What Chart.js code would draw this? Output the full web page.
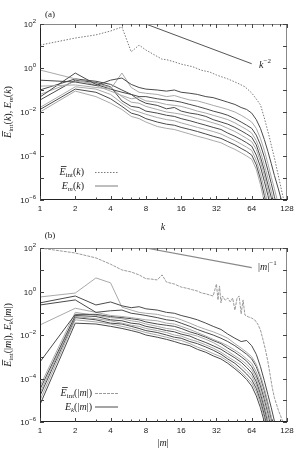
<!DOCTYPE html>
<html>
<head>
<meta charset="utf-8">
<script src="https://cdn.jsdelivr.net/npm/chart.js@4.4.1/dist/chart.umd.min.js"></script>
<style>
body { margin: 0; background: #fff; }
#wrap { position: relative; width: 298px; height: 449px; }
canvas { position: absolute; left: 0; }
</style>
</head>
<body>
<div id="wrap">
  <canvas id="chartA" width="298" height="234" style="top:0px"></canvas>
  <canvas id="chartB" width="298" height="223" style="top:226px"></canvas>
</div>
<script>
// wavenumbers k (panel a) and |m| (panel b)
const kGrid = [1,2,3,4,5,6,7,8,10,12,14,16,19,22,26,30,35,40,46,52,58,64,70,76,82,88,94,100,108,116,124];

// panel (a): E_m(k) for the different m
const spectraA = [
  [2.8e-1,2.3e-1,1.6e-1,2.8e-1,3.5e-1,1.8e-1,1.3e-1,1.1e-1,1.0e-1,8.9e-2,1.0e-1,7.9e-2,7.1e-2,6.3e-2,5.0e-2,4.5e-2,3.5e-2,2.8e-2,2.2e-2,1.6e-2,1.3e-2,8.9e-3,4.5e-3,1.8e-3,5.6e-4,1.6e-4,4.5e-5,1.3e-5,3.2e-6,7.9e-7,2.0e-7],
  [1.5e-1,1.7e-1,1.3e-1,1.1e-1,5.9e-1,1.3e-1,7.9e-2,7.1e-2,6.3e-2,5.0e-2,5.6e-2,4.5e-2,3.5e-2,3.2e-2,2.5e-2,2.0e-2,1.6e-2,1.3e-2,1.0e-2,7.1e-3,5.0e-3,3.5e-3,1.8e-3,6.3e-4,1.8e-4,4.5e-5,1.1e-5,3.2e-6,6.3e-7,1.3e-7,null],
  [4.8e-2,5.9e-1,1.8e-1,1.1e-1,7.9e-2,6.3e-2,5.0e-2,5.0e-2,4.0e-2,3.5e-2,3.2e-2,2.8e-2,2.2e-2,1.8e-2,1.4e-2,1.1e-2,8.9e-3,7.1e-3,5.0e-3,3.5e-3,2.5e-3,1.8e-3,8.9e-4,3.2e-4,8.9e-5,2.2e-5,5.6e-6,1.4e-6,3.2e-7,null,null],
  [8.1e-1,3.2e-1,1.6e-1,8.9e-2,5.6e-2,4.0e-2,4.5e-2,3.2e-2,2.8e-2,2.2e-2,2.0e-2,1.8e-2,1.4e-2,1.1e-2,8.9e-3,7.1e-3,5.6e-3,4.5e-3,3.2e-3,2.2e-3,1.6e-3,1.1e-3,5.0e-4,1.6e-4,4.0e-5,1.0e-5,2.5e-6,6.3e-7,1.3e-7,null,null],
  [1.0e-1,3.2e-1,2.5e-1,1.8e-1,1.0e-1,6.3e-2,3.5e-2,2.5e-2,2.0e-2,1.4e-2,1.6e-2,1.1e-2,8.9e-3,7.9e-3,6.3e-3,4.5e-3,3.5e-3,2.8e-3,2.0e-3,1.4e-3,1.0e-3,7.1e-4,3.2e-4,8.9e-5,2.2e-5,5.0e-6,1.3e-6,3.2e-7,null,null,null],
  [6.3e-2,2.5e-1,2.0e-1,1.3e-1,5.0e-2,2.8e-2,2.5e-2,1.8e-2,1.3e-2,1.0e-2,8.9e-3,7.9e-3,6.3e-3,5.0e-3,4.0e-3,3.2e-3,2.5e-3,1.8e-3,1.3e-3,8.9e-4,6.3e-4,4.5e-4,2.0e-4,5.6e-5,1.3e-5,2.8e-6,6.3e-7,null,null,null,null],
  [3.5e-2,2.8e-1,2.2e-1,1.4e-1,3.2e-2,1.8e-2,1.6e-2,1.1e-2,8.9e-3,7.1e-3,6.3e-3,5.0e-3,4.0e-3,3.2e-3,2.5e-3,2.0e-3,1.6e-3,1.1e-3,7.9e-4,5.6e-4,4.0e-4,2.8e-4,1.1e-4,3.2e-5,7.1e-6,1.6e-6,3.2e-7,null,null,null,null],
  [1.6e-2,1.4e-1,1.1e-1,6.3e-2,2.5e-2,1.3e-2,1.0e-2,7.9e-3,5.6e-3,4.5e-3,4.0e-3,3.2e-3,2.5e-3,2.0e-3,1.6e-3,1.3e-3,1.0e-3,7.1e-4,5.0e-4,3.5e-4,2.5e-4,1.8e-4,6.3e-5,1.6e-5,3.2e-6,6.3e-7,null,null,null,null,null],
  [1.3e-2,1.1e-1,7.9e-2,4.0e-2,1.8e-2,8.9e-3,7.1e-3,5.0e-3,3.5e-3,2.8e-3,2.5e-3,2.0e-3,1.6e-3,1.3e-3,1.0e-3,7.9e-4,6.3e-4,4.5e-4,3.2e-4,2.2e-4,1.6e-4,1.1e-4,4.0e-5,8.9e-6,1.6e-6,3.2e-7,null,null,null,null,null],
  [1.0e-2,8.9e-2,5.0e-2,2.5e-2,1.3e-2,6.3e-3,5.0e-3,3.5e-3,2.2e-3,1.8e-3,1.6e-3,1.3e-3,1.0e-3,7.9e-4,6.3e-4,5.0e-4,4.0e-4,2.8e-4,2.0e-4,1.4e-4,1.0e-4,7.1e-5,2.5e-5,5.0e-6,7.9e-7,1.6e-7,null,null,null,null,null]
];

// panel (a): mean E_int(k)
const kInt = [1,2,3,4,5,6,7,8,11,12,14,16,20,24,28,32,40,48,56,64,70,76,82,90,100,110,120,128];
const eIntK = [11,23,32,48,73,5.4,11,6.6,2.5,2.4,1.9,1.5,1.15,0.78,0.66,0.48,0.32,0.21,0.14,0.073,0.039,0.021,0.0054,8.1e-4,8.1e-5,8.1e-6,1.0e-6,1.4e-7];

// panel (a): k^-2 guide
const refK = [8, 64];
const refKval = [100, 1.5625];

// panel (b): E_k(|m|) for the different k
const spectraB = [
  [3.0e-1,6.2e-1,2.4e-1,3.3e-1,2.2e-1,1.8e-1,2.0e-1,1.6e-1,1.4e-1,1.1e-1,1.0e-1,7.9e-2,6.3e-2,5.0e-2,3.5e-2,2.5e-2,1.8e-2,1.1e-2,7.1e-3,5.0e-3,5.6e-3,3.2e-3,1.3e-3,3.5e-4,7.9e-5,1.8e-5,4.5e-6,1.1e-6,2.5e-7,null,null],
  [5.6e-1,8.5e-1,4.2,2.5,1.9e-1,1.4e-1,1.1e-1,1.0e-1,8.9e-2,7.1e-2,6.3e-2,5.0e-2,3.5e-2,2.5e-2,1.8e-2,1.4e-2,1.0e-2,7.1e-3,4.0e-3,2.5e-3,1.6e-3,1.0e-3,4.5e-4,1.4e-4,3.5e-5,7.9e-6,1.8e-6,4.0e-7,null,null,null],
  [2.4e-1,4.1e-1,1.1e-1,1.3e-1,1.4e-1,1.0e-1,8.9e-2,7.9e-2,6.3e-2,5.0e-2,4.5e-2,3.5e-2,2.5e-2,1.8e-2,1.3e-2,1.0e-2,7.1e-3,5.0e-3,3.2e-3,2.0e-3,1.3e-3,7.9e-4,3.5e-4,1.1e-4,2.8e-5,6.3e-6,1.4e-6,3.2e-7,null,null,null],
  [2.9e-2,1.7e-1,1.1e-1,7.9e-2,7.1e-2,6.3e-2,5.6e-2,5.0e-2,4.5e-2,3.5e-2,3.2e-2,2.5e-2,1.8e-2,1.3e-2,8.9e-3,6.3e-3,4.5e-3,3.2e-3,2.0e-3,1.3e-3,7.9e-4,5.0e-4,2.0e-4,6.3e-5,1.6e-5,3.5e-6,7.9e-7,null,null,null,null],
  [5.8e-4,8.9e-2,8.9e-2,7.1e-2,6.3e-2,5.6e-2,5.0e-2,4.0e-2,3.2e-2,2.8e-2,2.5e-2,2.0e-2,1.4e-2,1.1e-2,7.9e-3,5.6e-3,4.0e-3,2.5e-3,1.6e-3,1.0e-3,6.3e-4,3.5e-4,1.4e-4,4.5e-5,1.1e-5,2.5e-6,5.0e-7,null,null,null,null],
  [4.5e-5,1.1e-1,7.9e-2,6.3e-2,5.6e-2,4.5e-2,4.0e-2,3.2e-2,2.5e-2,2.0e-2,1.8e-2,1.4e-2,1.1e-2,8.9e-3,6.3e-3,4.5e-3,2.8e-3,1.8e-3,1.1e-3,7.1e-4,4.5e-4,2.5e-4,1.0e-4,2.8e-5,6.3e-6,1.3e-6,2.5e-7,null,null,null,null],
  [3.2e-5,7.9e-2,7.1e-2,5.0e-2,4.5e-2,3.5e-2,3.2e-2,2.5e-2,2.0e-2,1.6e-2,1.4e-2,1.1e-2,8.9e-3,6.3e-3,4.5e-3,3.2e-3,2.2e-3,1.4e-3,8.9e-4,5.6e-4,3.2e-4,1.8e-4,7.1e-5,2.0e-5,4.5e-6,8.9e-7,null,null,null,null,null],
  [2.2e-5,7.1e-2,5.6e-2,4.5e-2,3.5e-2,2.8e-2,2.5e-2,2.0e-2,1.6e-2,1.3e-2,1.0e-2,8.9e-3,6.3e-3,5.0e-3,3.5e-3,2.5e-3,1.6e-3,1.0e-3,6.3e-4,4.0e-4,2.2e-4,1.3e-4,5.0e-5,1.4e-5,3.2e-6,6.3e-7,null,null,null,null,null],
  [1.6e-5,6.3e-2,5.0e-2,3.5e-2,3.2e-2,2.5e-2,2.0e-2,1.6e-2,1.3e-2,1.0e-2,7.9e-3,7.1e-3,5.0e-3,4.0e-3,2.8e-3,2.0e-3,1.3e-3,7.9e-4,5.0e-4,2.8e-4,1.6e-4,8.9e-5,3.5e-5,1.0e-5,2.2e-6,4.5e-7,null,null,null,null,null],
  [1.0e-5,5.0e-2,4.0e-2,3.2e-2,2.5e-2,2.0e-2,1.6e-2,1.3e-2,1.0e-2,7.9e-3,6.3e-3,5.6e-3,4.0e-3,2.8e-3,2.0e-3,1.4e-3,1.0e-3,6.3e-4,3.5e-4,2.0e-4,1.1e-4,6.3e-5,2.5e-5,7.1e-6,1.6e-6,3.2e-7,null,null,null,null,null],
  [6.3e-6,3.5e-2,3.2e-2,2.5e-2,2.0e-2,1.6e-2,1.3e-2,1.0e-2,7.9e-3,6.3e-3,5.0e-3,4.0e-3,3.2e-3,2.2e-3,1.6e-3,1.1e-3,7.9e-4,5.0e-4,2.8e-4,1.6e-4,8.9e-5,4.5e-5,1.6e-5,4.5e-6,1.0e-6,2.0e-7,null,null,null,null,null]
];

// panel (b): mean E_int(|m|)
const mInt = [1,2,3,4,5,6,7,8,9,10,11,12,14,16,18,20,22,24,26,28,30,32,33,34,35,36,38,40,42,44,46,48,50,52,54,56,60,64,68,72,76,80,84,88,92,96,100,108,116,124];
const eIntM = [100,59,35,18,9.8,7.9,5.8,3.9,3.7,3.4,5.8,2.7,2.2,1.6,1.4,1.2,1.05,0.85,0.78,0.69,0.62,2.2,0.41,1.8,0.3,0.62,0.4,0.5,0.33,0.5,0.14,0.5,0.62,0.093,0.41,0.083,0.068,0.06,0.049,0.032,0.017,5.9e-3,2.0e-3,5.8e-4,1.4e-4,3.6e-5,1.3e-5,3.5e-6,1.3e-6,4.0e-7];

// panel (b): |m|^-1 guide
const refM = [8, 64];
const refMval = [100, 12.5];

// axis ticks
const majorX = [1, 2, 4, 8, 16, 32, 64, 128];
const minorX = [3, 5, 6, 7, 10, 12, 14, 20, 24, 28, 40, 48, 56, 80, 96, 112];
const decadeY = [1e-6, 1e-5, 1e-4, 1e-3, 1e-2, 1e-1, 1, 10, 100];
const labelY = [100, 1, 1e-2, 1e-4, 1e-6];
const labelExp = ['2', '0', '\u22122', '\u22124', '\u22126'];

const DARK = '#4a4a4a', LIGHT = '#a9a9a9', DOT = '#7a7a7a';
const IT = 'italic 10px "Liberation Serif"', RM = '10px "Liberation Serif"';
const SUB = '7px "Liberation Serif"', SUBI = 'italic 7px "Liberation Serif"';

function series(xs, ys, style) {
  return Object.assign({
    data: xs.map((x, i) => ({ x: x, y: ys[i] })),
    borderWidth: 1, pointRadius: 0, tension: 0, fill: false
  }, style);
}

function runsWidth(ctx, runs) {
  let w = 0;
  runs.forEach(r => { ctx.font = r.font; w += ctx.measureText(r.t).width; });
  return w;
}

function drawRuns(ctx, runs, x, y, align) {
  let w = runsWidth(ctx, runs);
  let cx = align === 'right' ? x - w : (align === 'left' ? x : x - w / 2);
  runs.forEach(r => {
    ctx.font = r.font;
    let tw = ctx.measureText(r.t).width;
    ctx.fillText(r.t, cx, y + (r.dy || 0));
    if (r.bar) ctx.fillRect(cx + 1.5, y - 9, tw - 0.5, 0.8);
    cx += tw;
  });
}

// frame, ticks, labels and key drawn after the curves
const decor = {
  id: 'decor',
  afterDraw(chart, args, o) {
    const ctx = chart.ctx, a = chart.chartArea;
    const xs = chart.scales.x, ys = chart.scales.y;
    ctx.save();
    ctx.fillStyle = '#222';
    ctx.textBaseline = 'alphabetic';

    // frame
    ctx.lineWidth = 1;
    ctx.strokeStyle = '#888';
    ctx.beginPath();
    ctx.moveTo(a.left, a.top + 0.5); ctx.lineTo(a.right - 0.5, a.top + 0.5); ctx.lineTo(a.right - 0.5, a.bottom);
    ctx.stroke();
    ctx.strokeStyle = '#222';
    ctx.beginPath();
    ctx.moveTo(a.left + 0.5, a.top); ctx.lineTo(a.left + 0.5, a.bottom - 0.5); ctx.lineTo(a.right, a.bottom - 0.5);
    ctx.stroke();

    // x ticks, top and bottom
    ctx.beginPath();
    majorX.concat(minorX).forEach(v => {
      const px = Math.round(xs.getPixelForValue(v)) + 0.5;
      const len = majorX.includes(v) ? 4 : 2.5;
      ctx.moveTo(px, a.bottom); ctx.lineTo(px, a.bottom - len);
      ctx.moveTo(px, a.top); ctx.lineTo(px, a.top + len);
    });
    // y ticks, left and right
    decadeY.forEach(v => {
      const py = Math.round(ys.getPixelForValue(v)) + 0.5;
      ctx.moveTo(a.left, py); ctx.lineTo(a.left + 4, py);
      ctx.moveTo(a.right, py); ctx.lineTo(a.right - 4, py);
    });
    ctx.strokeStyle = '#444';
    ctx.stroke();

    // y tick labels 10^n
    labelY.forEach((v, i) => {
      const py = ys.getPixelForValue(v);
      ctx.font = '6px "Liberation Sans"';
      const ew = ctx.measureText(labelExp[i]).width;
      ctx.fillText(labelExp[i], a.left - 4 - ew, py - 1);
      ctx.font = '8px "Liberation Sans"';
      const bw = ctx.measureText('10').width;
      ctx.fillText('10', a.left - 4 - ew - bw, py + 3);
    });

    // panel label
    ctx.font = '9px "Liberation Serif"';
    ctx.textAlign = 'center';
    ctx.fillText(o.panel, 50, o.panelY);
    ctx.textAlign = 'left';

    // x title
    drawRuns(ctx, o.xTitle, 163, o.xTitleY, 'center');

    // y title, rotated
    ctx.save();
    ctx.translate(11, o.yTitleY);
    ctx.rotate(-Math.PI / 2);
    drawRuns(ctx, o.yTitle, 0, 0, 'center');
    ctx.restore();

    // guide label
    drawRuns(ctx, o.refLabel, o.refLabelX, o.refLabelY, 'left');

    // key
    o.key.forEach((row, i) => {
      const ky = o.keyY + i * 13.5;
      drawRuns(ctx, row.runs, o.keyRight, ky + 3, 'right');
      ctx.save();
      ctx.strokeStyle = row.color;
      ctx.lineWidth = row.width;
      ctx.setLineDash(row.dash || []);
      ctx.beginPath();
      ctx.moveTo(95, ky + 0.5); ctx.lineTo(118, ky + 0.5);
      ctx.stroke();
      ctx.restore();
    });
    ctx.restore();
  }
};

function makeChart(id, datasets, deco, padTop, axisH) {
  return new Chart(document.getElementById(id), {
    type: 'line',
    data: { datasets: datasets },
    options: {
      responsive: false,
      animation: false,
      devicePixelRatio: 1,
      layout: { padding: { top: padTop, right: 11, left: 0, bottom: 0 } },
      plugins: { legend: { display: false }, tooltip: { enabled: false }, decor: deco },
      scales: {
        x: {
          type: 'logarithmic', min: 1, max: 128,
          afterBuildTicks: s => { s.ticks = majorX.map(v => ({ value: v })); },
          afterFit: s => { s.height = axisH; },
          ticks: { callback: v => String(v), autoSkip: false, maxRotation: 0, padding: 4,
                   color: '#222', font: { family: 'Liberation Sans', size: 8 } },
          grid: { display: false, drawTicks: false },
          border: { display: false }
        },
        y: {
          type: 'logarithmic', min: 1e-6, max: 100,
          afterBuildTicks: s => { s.ticks = decadeY.map(v => ({ value: v })); },
          afterFit: s => { s.width = 40; },
          ticks: { display: false },
          grid: { display: false, drawTicks: false },
          border: { display: false }
        }
      }
    },
    plugins: [decor]
  });
}

// panel (a)
const dsA = spectraA.map((s, i) => series(kGrid, s, { borderColor: i % 2 ? LIGHT : DARK }));
dsA.push(series(kInt, eIntK, { borderColor: DOT, borderDash: [1.5, 1.5] }));
dsA.push(series(refK, refKval, { borderColor: '#555' }));

makeChart('chartA', dsA, {
  panel: '(a)', panelY: 17,
  xTitle: [{ t: 'k', font: IT }], xTitleY: 230,
  yTitle: [{ t: 'E', font: IT, bar: true }, { t: 'int', font: SUB, dy: 2 }, { t: '(', font: RM }, { t: 'k', font: IT },
           { t: '), ', font: RM }, { t: 'E', font: IT }, { t: 'm', font: SUBI, dy: 2 }, { t: '(', font: RM },
           { t: 'k', font: IT }, { t: ')', font: RM }],
  yTitleY: 112,
  refLabel: [{ t: 'k', font: IT }, { t: '\u22122', font: SUB, dy: -5 }], refLabelX: 259, refLabelY: 68,
  keyRight: 84, keyY: 172,
  key: [
    { runs: [{ t: 'E', font: IT, bar: true }, { t: 'int', font: SUB, dy: 2 }, { t: '(', font: RM }, { t: 'k', font: IT }, { t: ')', font: RM }],
      color: DOT, width: 1, dash: [1.5, 1.5] },
    { runs: [{ t: 'E', font: IT }, { t: 'm', font: SUBI, dy: 2 }, { t: '(', font: RM }, { t: 'k', font: IT }, { t: ')', font: RM }],
      color: LIGHT, width: 1.5 }
  ]
}, 24, 34);

// panel (b)
const dsB = spectraB.map((s, i) => series(kGrid, s, { borderColor: i % 2 ? LIGHT : DARK }));
dsB.push(series(mInt, eIntM, { borderColor: '#9a9a9a', borderDash: [3, 1] }));
dsB.push(series(refM, refMval, { borderColor: '#888', borderWidth: 1.2 }));

makeChart('chartB', dsB, {
  panel: '(b)', panelY: 12,
  xTitle: [{ t: '|', font: RM }, { t: 'm', font: IT }, { t: '|', font: RM }], xTitleY: 220,
  yTitle: [{ t: 'E', font: IT, bar: true }, { t: 'int', font: SUB, dy: 2 }, { t: '(|', font: RM }, { t: 'm', font: IT },
           { t: '|), ', font: RM }, { t: 'E', font: IT }, { t: 'k', font: SUBI, dy: 2 }, { t: '(|', font: RM },
           { t: 'm', font: IT }, { t: '|)', font: RM }],
  yTitleY: 109,
  refLabel: [{ t: '|', font: RM }, { t: 'm', font: IT }, { t: '|', font: RM }, { t: '\u22121', font: SUB, dy: -5 }],
  refLabelX: 258, refLabelY: 44,
  keyRight: 92, keyY: 167,
  key: [
    { runs: [{ t: 'E', font: IT, bar: true }, { t: 'int', font: SUB, dy: 2 }, { t: '(|', font: RM }, { t: 'm', font: IT }, { t: '|)', font: RM }],
      color: '#9a9a9a', width: 1.2, dash: [3, 1] },
    { runs: [{ t: 'E', font: IT }, { t: 'k', font: SUBI, dy: 2 }, { t: '(|', font: RM }, { t: 'm', font: IT }, { t: '|)', font: RM }],
      color: DARK, width: 1 }
  ]
}, 22, 27);
</script>
</body>
</html>
